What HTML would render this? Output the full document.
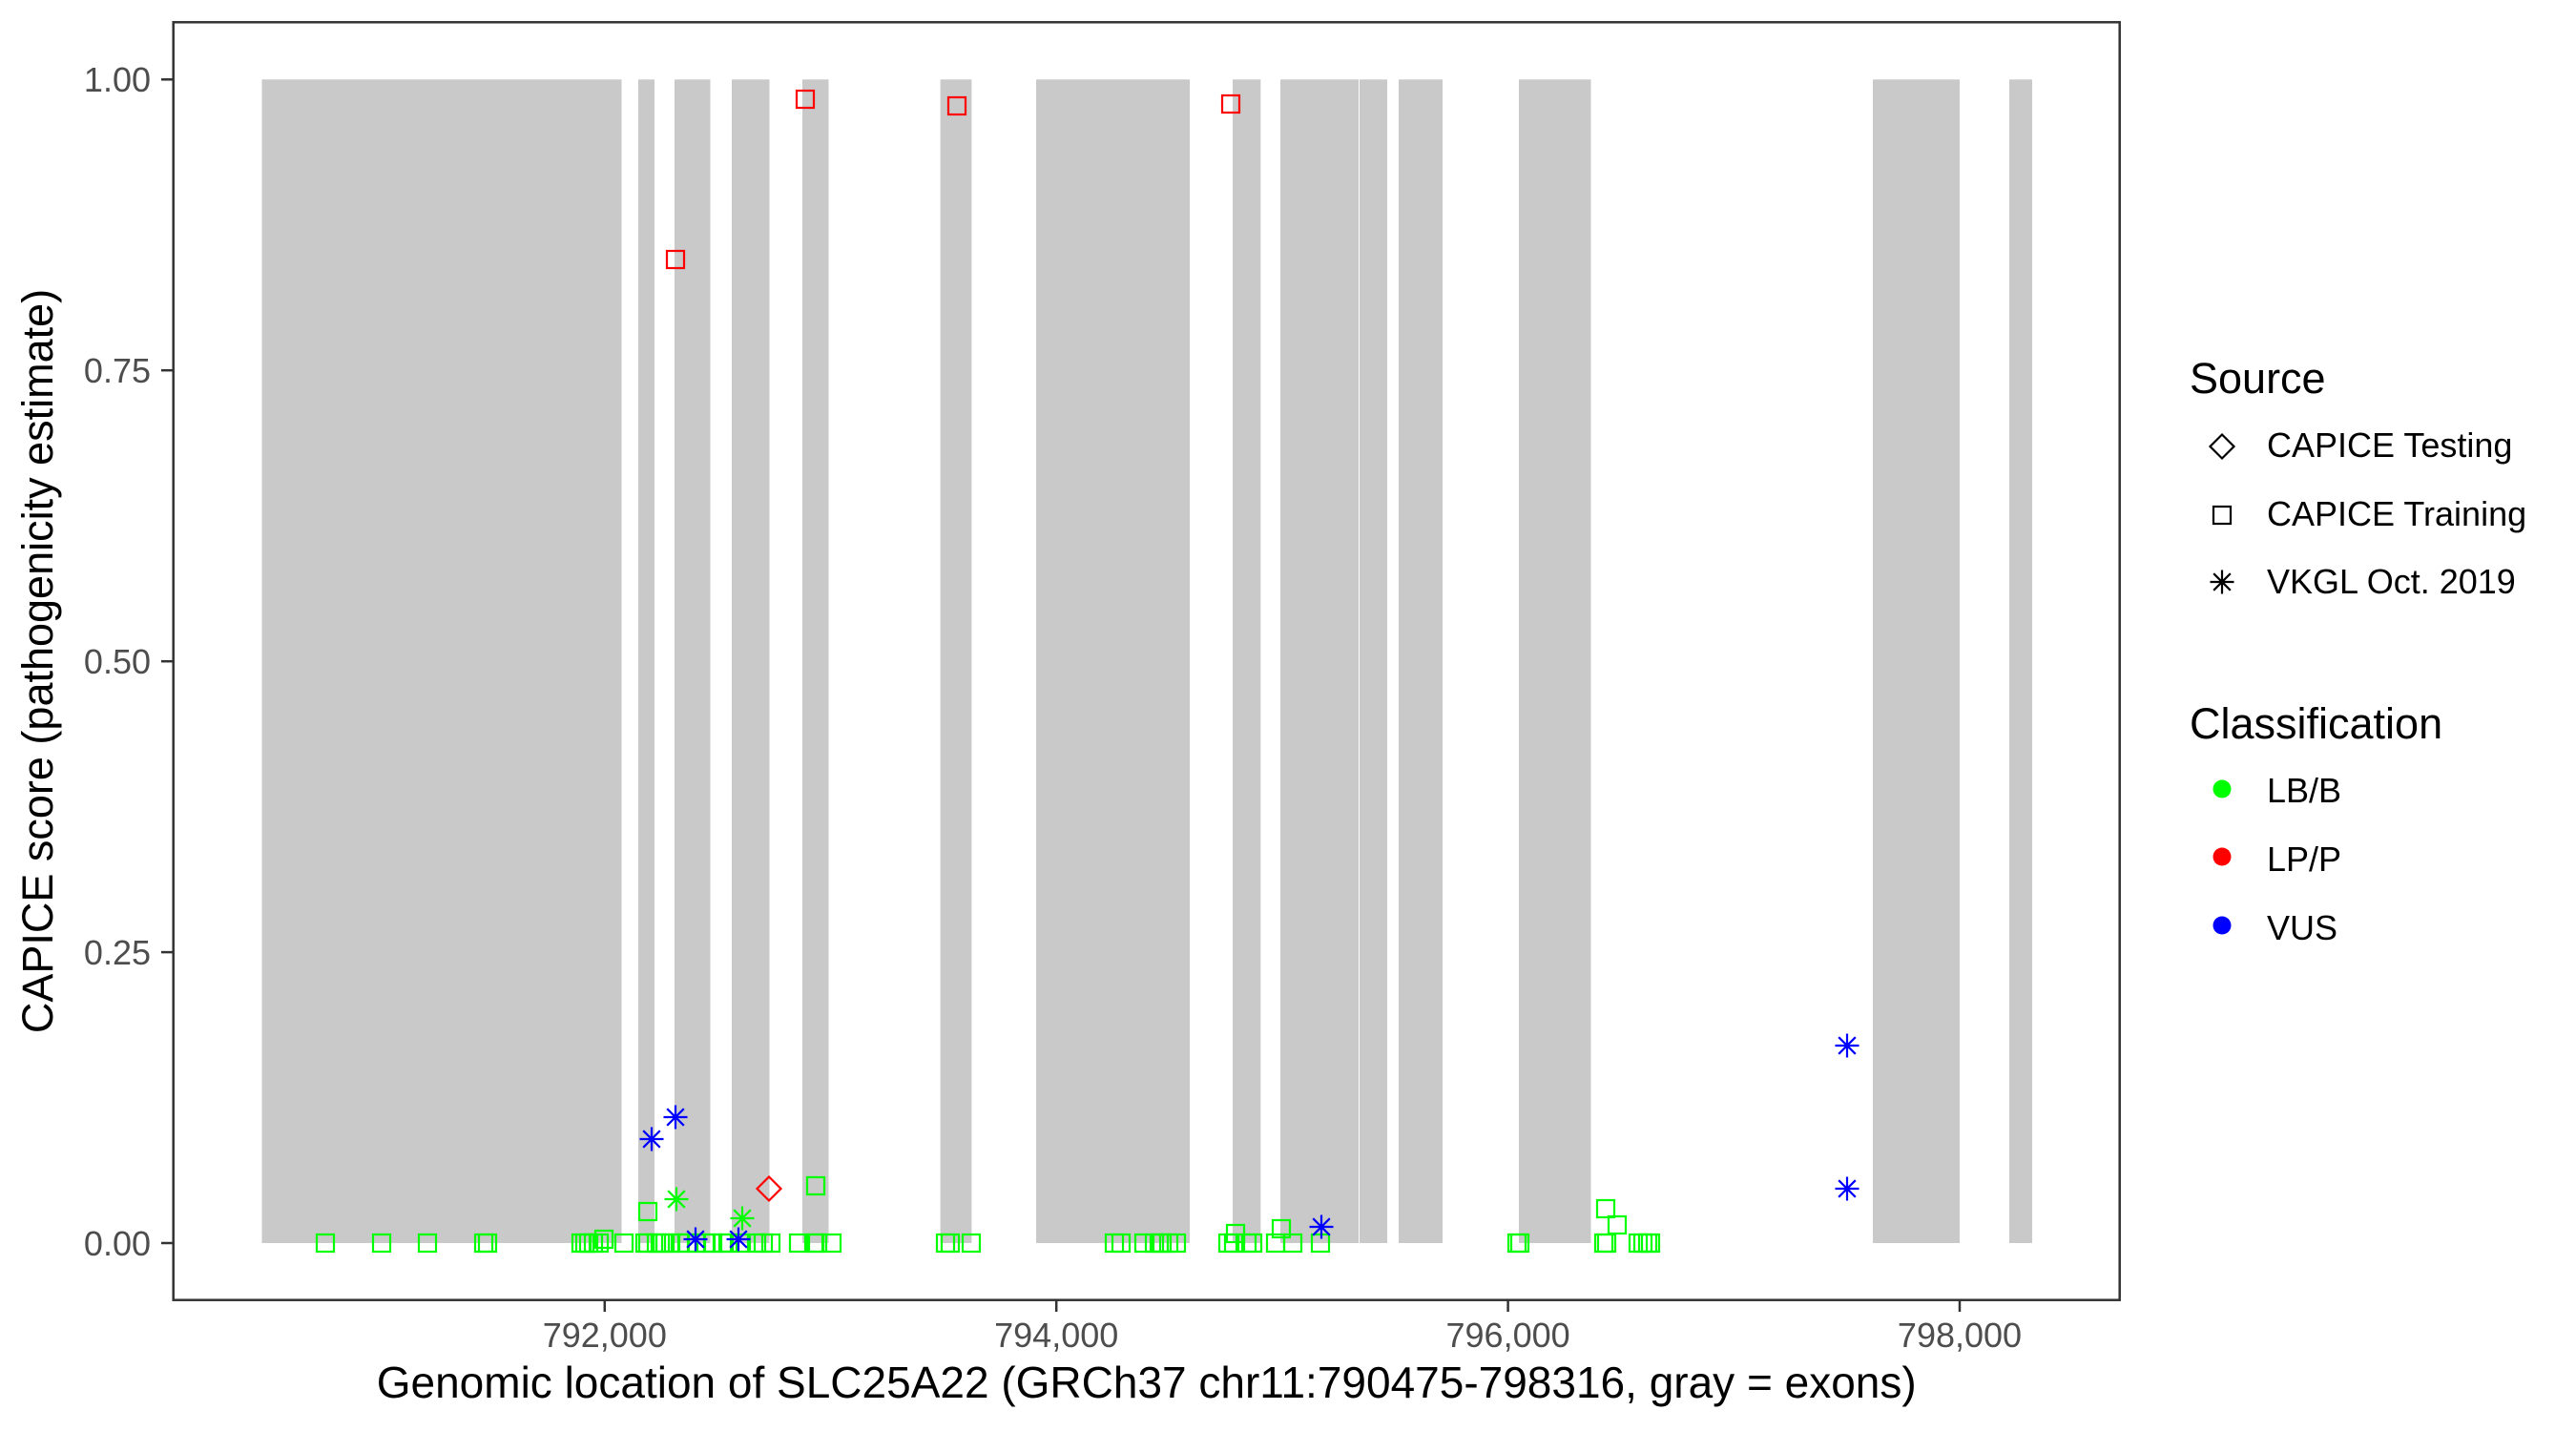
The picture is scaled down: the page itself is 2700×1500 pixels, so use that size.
<!DOCTYPE html>
<html><head><meta charset="utf-8"><style>html,body{margin:0;padding:0;background:#fff}svg{display:block}</style></head>
<body>
<svg width="2700" height="1500" viewBox="0 0 2700 1500" xmlns="http://www.w3.org/2000/svg" font-family="Liberation Sans, Arial, sans-serif">
<defs>
<path id="ast" d="M0,-12.5V12.5M-12.5,0H12.5M-8.8,-8.8L8.8,8.8M-8.8,8.8L8.8,-8.8" fill="none" stroke-width="2.2"/>
<rect id="sq" x="-9" y="-9" width="18" height="18" fill="none" stroke-width="2.2"/>
<path id="dia" d="M0,-12.5L12.5,0L0,12.5L-12.5,0Z" fill="none" stroke-width="2.2"/>
</defs>
<rect width="2700" height="1500" fill="#fff"/>
<g fill="#C9C9C9">
<rect x="274.5" y="83.3" width="377" height="1219.7"/>
<rect x="669" y="83.3" width="17" height="1219.7"/>
<rect x="707" y="83.3" width="37.5" height="1219.7"/>
<rect x="767" y="83.3" width="39.5" height="1219.7"/>
<rect x="841" y="83.3" width="27.5" height="1219.7"/>
<rect x="985.6" y="83.3" width="32.8" height="1219.7"/>
<rect x="1086" y="83.3" width="161" height="1219.7"/>
<rect x="1292" y="83.3" width="29.3" height="1219.7"/>
<rect x="1342" y="83.3" width="82" height="1219.7"/>
<rect x="1425" y="83.3" width="29" height="1219.7"/>
<rect x="1466" y="83.3" width="46" height="1219.7"/>
<rect x="1592" y="83.3" width="75.5" height="1219.7"/>
<rect x="1963" y="83.3" width="91" height="1219.7"/>
<rect x="2106" y="83.3" width="24" height="1219.7"/>
</g>
<g stroke="#00FF00">
<use href="#sq" x="341" y="1303"/><use href="#sq" x="400" y="1303"/><use href="#sq" x="448" y="1303"/><use href="#sq" x="507" y="1303"/><use href="#sq" x="511" y="1303"/>
<use href="#sq" x="609" y="1303"/><use href="#sq" x="613" y="1303"/><use href="#sq" x="617" y="1303"/><use href="#sq" x="622" y="1303"/><use href="#sq" x="628" y="1303"/><use href="#sq" x="633" y="1299"/>
<use href="#sq" x="654" y="1303"/><use href="#sq" x="676" y="1303"/><use href="#sq" x="679" y="1303"/><use href="#sq" x="688" y="1303"/><use href="#sq" x="692" y="1303"/><use href="#sq" x="697" y="1303"/><use href="#sq" x="703" y="1303"/><use href="#sq" x="713" y="1303"/><use href="#sq" x="720" y="1303"/><use href="#sq" x="730" y="1303"/><use href="#sq" x="740" y="1303"/><use href="#sq" x="747" y="1303"/><use href="#sq" x="757" y="1303"/><use href="#sq" x="763" y="1303"/><use href="#sq" x="777" y="1303"/><use href="#sq" x="793" y="1303"/><use href="#sq" x="800" y="1303"/><use href="#sq" x="808" y="1303"/><use href="#sq" x="837" y="1303"/><use href="#sq" x="853" y="1303"/><use href="#sq" x="857" y="1303"/><use href="#sq" x="872" y="1303"/>
<use href="#sq" x="991" y="1303"/><use href="#sq" x="996" y="1303"/><use href="#sq" x="1018" y="1303"/>
<use href="#sq" x="1168" y="1303"/><use href="#sq" x="1175" y="1303"/><use href="#sq" x="1199" y="1303"/><use href="#sq" x="1210" y="1303"/><use href="#sq" x="1215" y="1303"/><use href="#sq" x="1218" y="1303"/><use href="#sq" x="1225" y="1303"/><use href="#sq" x="1233" y="1303"/>
<use href="#sq" x="1287" y="1303"/><use href="#sq" x="1293" y="1303"/><use href="#sq" x="1307" y="1303"/><use href="#sq" x="1313" y="1303"/><use href="#sq" x="1337" y="1303"/><use href="#sq" x="1355" y="1303"/><use href="#sq" x="1384" y="1303"/>
<use href="#sq" x="1590" y="1303"/><use href="#sq" x="1593" y="1303"/><use href="#sq" x="1681" y="1303"/><use href="#sq" x="1684" y="1303"/><use href="#sq" x="1717" y="1303"/><use href="#sq" x="1722" y="1303"/><use href="#sq" x="1727" y="1303"/><use href="#sq" x="1730" y="1303"/>
<use href="#sq" x="679" y="1270"/><use href="#sq" x="855" y="1243"/><use href="#sq" x="1295" y="1293"/><use href="#sq" x="1343" y="1288"/><use href="#sq" x="1683" y="1267"/><use href="#sq" x="1695" y="1284"/>
<use href="#ast" x="709" y="1257"/><use href="#ast" x="778" y="1277"/>
</g>
<g stroke="#FF0000">
<use href="#sq" x="708" y="272"/><use href="#sq" x="844" y="104"/><use href="#sq" x="1003" y="111"/><use href="#sq" x="1290" y="109"/>
<use href="#dia" x="806" y="1246"/>
</g>
<g stroke="#0000FF">
<use href="#ast" x="683" y="1194"/><use href="#ast" x="708" y="1171"/><use href="#ast" x="729" y="1299"/><use href="#ast" x="774" y="1299"/><use href="#ast" x="1385" y="1286"/><use href="#ast" x="1936" y="1096"/><use href="#ast" x="1936" y="1246"/>
</g>
<rect x="181.7" y="23.3" width="2040" height="1339.4" fill="none" stroke="#333" stroke-width="2.5"/>
<g stroke="#333" stroke-width="2.5">
<line x1="169" y1="83.3" x2="181.7" y2="83.3"/><line x1="169" y1="388.2" x2="181.7" y2="388.2"/><line x1="169" y1="693.2" x2="181.7" y2="693.2"/><line x1="169" y1="998.1" x2="181.7" y2="998.1"/><line x1="169" y1="1303" x2="181.7" y2="1303"/>
<line x1="633.8" y1="1362.7" x2="633.8" y2="1375"/><line x1="1107.2" y1="1362.7" x2="1107.2" y2="1375"/><line x1="1580.6" y1="1362.7" x2="1580.6" y2="1375"/><line x1="2054" y1="1362.7" x2="2054" y2="1375"/>
</g>
<g fill="#4D4D4D" font-size="36" text-anchor="end">
<text x="158" y="96">1.00</text><text x="158" y="401">0.75</text><text x="158" y="706">0.50</text><text x="158" y="1011">0.25</text><text x="158" y="1316">0.00</text>
</g>
<g fill="#4D4D4D" font-size="36" text-anchor="middle">
<text x="633.8" y="1412">792,000</text><text x="1107.2" y="1412">794,000</text><text x="1580.6" y="1412">796,000</text><text x="2054" y="1412">798,000</text>
</g>
<text x="1201.7" y="1465" font-size="46" text-anchor="middle" fill="#000">Genomic location of SLC25A22 (GRCh37 chr11:790475-798316, gray = exons)</text>
<text transform="translate(55,693) rotate(-90)" font-size="45" text-anchor="middle" fill="#000">CAPICE score (pathogenicity estimate)</text>
<g fill="#000">
<text x="2295" y="412" font-size="45">Source</text>
<text x="2376" y="479" font-size="36">CAPICE Testing</text>
<text x="2376" y="551" font-size="36">CAPICE Training</text>
<text x="2376" y="622" font-size="36">VKGL Oct. 2019</text>
<text x="2295" y="774" font-size="45">Classification</text>
<text x="2376" y="841" font-size="36">LB/B</text>
<text x="2376" y="913" font-size="36">LP/P</text>
<text x="2376" y="985" font-size="36">VUS</text>
</g>
<g stroke="#000">
<use href="#dia" x="2329" y="468"/><use href="#sq" x="2329" y="540"/><use href="#ast" x="2329" y="610"/>
</g>
<circle cx="2329" cy="827" r="9.5" fill="#00FF00"/>
<circle cx="2329" cy="898" r="9.5" fill="#FF0000"/>
<circle cx="2329" cy="970" r="9.5" fill="#0000FF"/>
</svg>
</body></html>
